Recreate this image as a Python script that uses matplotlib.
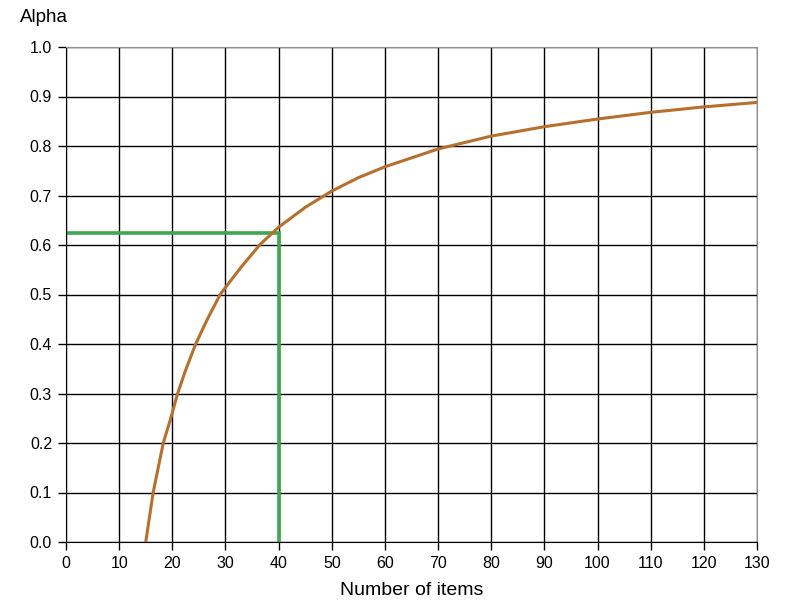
import matplotlib
matplotlib.use("Agg")
import matplotlib.pyplot as plt

# values
n_items = [15, 16.4, 18.3, 19.6, 21, 22.5, 24.4, 26.5, 29, 31.2, 33, 36.5, 40,
           45, 50, 55, 60, 70, 80, 90, 100, 110, 120, 130]
alpha = [0.0, 0.1, 0.2, 0.246, 0.3, 0.347, 0.4, 0.448, 0.5, 0.531, 0.556, 0.601,
         0.636, 0.676, 0.709, 0.736, 0.758, 0.794, 0.82, 0.839, 0.8545, 0.868,
         0.879, 0.888]

target_items = 40
target_alpha = 0.625

xticks = list(range(0, 131, 10))
yticks = [i / 10 for i in range(11)]

plt.rcParams['font.family'] = ['Liberation Sans', 'DejaVu Sans']

fig = plt.figure(figsize=(7.85, 6.14), dpi=100)
ax = fig.add_axes([66 / 785, 1 - 542 / 614, (757 - 66) / 785, (542 - 47) / 614])

ax.set_xlim(0, 130)
ax.set_ylim(0, 1.0)
ax.set_xticks(xticks)
ax.set_yticks(yticks)
ax.set_xticklabels([str(t) for t in xticks])
ax.set_yticklabels([f"{t:.1f}" for t in yticks])
ax.grid(True, color='black', linewidth=1.0)
ax.set_axisbelow(True)

ax.plot(n_items, alpha, color='#B5702E', linewidth=2.2, zorder=3,
        solid_joinstyle='round')
ax.plot([0, target_items, target_items], [target_alpha, target_alpha, 0],
        color='#3DA84F', linewidth=2.6, zorder=2, solid_joinstyle='miter')

for s in ['left', 'bottom']:
    ax.spines[s].set_color('black')
for s in ['top', 'right']:
    ax.spines[s].set_color('#909090')
ax.tick_params(direction='out', length=6, width=1, colors='black', labelsize=11.5, pad=4)

ax.set_xlabel('Number of items', fontsize=14, labelpad=8)
fig.text(20 / 785, 1 - 18 / 614, 'Alpha', fontsize=13.5, ha='left', va='center')

fig.savefig('out.png', dpi=100)
